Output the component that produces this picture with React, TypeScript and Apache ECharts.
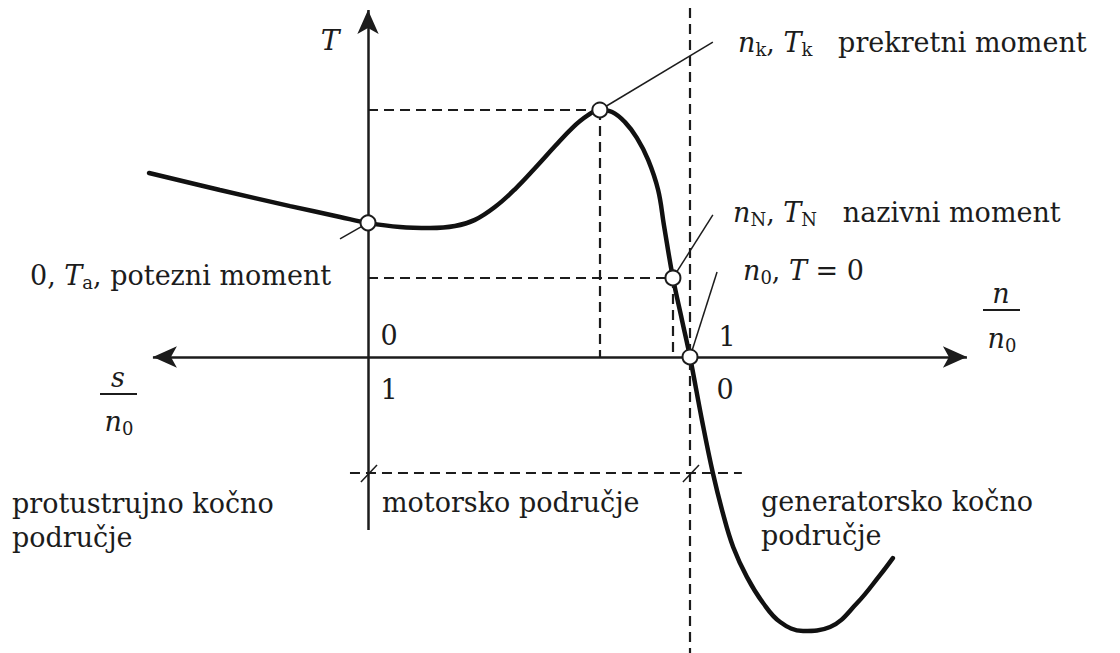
import React, { useEffect, useRef } from "react";
import * as echarts from "echarts";

// Torque characteristic: n/n0 (x) vs T/Tk (y)
const curveN = [-0.680, -0.460, -0.242, -0.087, 0, 0.099, 0.193, 0.270, 0.332, 0.394, 0.457, 0.519, 0.581, 0.634, 0.680, 0.720, 0.758, 0.798, 0.835, 0.870, 0.901, 0.919, 0.947, 0.975, 1.000, 1.037, 1.071, 1.102, 1.134, 1.177, 1.227, 1.280, 1.351, 1.435, 1.519, 1.590, 1.630];
const curveT = [0.745, 0.676, 0.611, 0.567, 0.543, 0.526, 0.522, 0.530, 0.555, 0.607, 0.680, 0.765, 0.854, 0.927, 0.976, 1.000, 0.992, 0.951, 0.887, 0.798, 0.676, 0.534, 0.320, 0.150, 0, -0.255, -0.470, -0.632, -0.769, -0.891, -0.996, -1.073, -1.109, -1.093, -0.996, -0.883, -0.814];

// Marked operating points: starting (Ta), breakdown (k), nominal (N), synchronous (n0)
const pointNames = ["Ta", "Tk", "TN", "n0"];
const pointN = [0, 0.720, 0.947, 1.0];
const pointT = [0.543, 1.0, 0.320, 0];

// Axis ranges (data space)
const xRange = [-1.1429, 2.3354];
const yRange = [-1.1984, 1.4453];
const xAxisEnds = [-0.668, 1.860];
const yAxisEnds = [-0.700, 1.405];
const syncLineEnds = [1.413, -1.198];
const regionLevel = -0.470;
const regionEnds = [-0.056, 1.161];

const FONT = '"DejaVu Serif", "Liberation Serif", serif';
const INK = "#1c1c1c";
const FS = 27;

const rich = {
  i: { fontStyle: "italic", fontSize: FS, fontFamily: FONT, fill: INK, lineHeight: 32 },
  s: { fontSize: 18, fontFamily: FONT, fill: INK, lineHeight: 14, verticalAlign: "bottom" },
  r: { fontSize: FS, fontFamily: FONT, fill: INK, lineHeight: 32 },
};

function label(text: string, x: number, y: number, extra: any = {}) {
  return {
    type: "text",
    x,
    y,
    silent: true,
    z: 10,
    style: {
      text,
      fill: INK,
      fontFamily: FONT,
      fontSize: FS,
      align: "left",
      verticalAlign: "middle",
      rich,
      ...extra,
    },
  };
}

export default function App() {
  const ref = useRef<HTMLDivElement>(null);
  useEffect(() => {
    if (!ref.current) return;
    const chart = echarts.init(ref.current, null, { renderer: "svg" });
    const curve = curveN.map((n, i) => [n, curveT[i]]);
    const pts = pointN.map((n, i) => ({ name: pointNames[i], value: [n, pointT[i]] }));
    const [pa, pk, pN, p0] = pts.map((p) => p.value);

    const dashed = { type: [10, 6], width: 2.2, color: INK };
    const thin = { type: "solid", width: 1.5, color: INK };
    const seg = (a: number[], b: number[], ls: any) => [
      { coord: a, lineStyle: ls, symbol: "none" },
      { coord: b, symbol: "none" },
    ];

    chart.setOption({
      animation: false,
      backgroundColor: "#ffffff",
      grid: { left: 0, right: 0, top: 0, bottom: 0 },
      xAxis: { type: "value", min: xRange[0], max: xRange[1], show: false },
      yAxis: { type: "value", min: yRange[0], max: yRange[1], show: false },
      series: [
        {
          name: "axes",
          type: "line",
          data: [],
          z: 2,
          markLine: {
            silent: true,
            animation: false,
            label: { show: false },
            symbolSize: [16, 24],
            data: [
              [
                { coord: [xAxisEnds[0], 0], symbol: "arrow", lineStyle: { type: "solid", width: 2.5, color: INK } },
                { coord: [xAxisEnds[1], 0], symbol: "arrow" },
              ],
              [
                { coord: [0, yAxisEnds[0]], symbol: "none", lineStyle: { type: "solid", width: 2.5, color: INK } },
                { coord: [0, yAxisEnds[1]], symbol: "arrow" },
              ],
            ],
          },
        },
        {
          name: "guides",
          type: "line",
          data: [],
          z: 2,
          markLine: {
            silent: true,
            animation: false,
            label: { show: false },
            symbol: ["none", "none"],
            data: [
              seg([0, pk[1]], [pk[0], pk[1]], dashed),
              seg([pk[0], pk[1]], [pk[0], 0], dashed),
              seg([0, pN[1]], [pN[0], pN[1]], dashed),
              seg([pN[0], pN[1]], [pN[0], 0], dashed),
              seg([p0[0], syncLineEnds[0]], [p0[0], syncLineEnds[1]], dashed),
              seg([regionEnds[0], regionLevel], [regionEnds[1], regionLevel], dashed),
              seg([-0.022, regionLevel - 0.036], [0.028, regionLevel + 0.033], thin),
              seg([0.978, regionLevel - 0.036], [1.028, regionLevel + 0.033], thin),
              seg([pk[0], pk[1]], [1.071, 1.275], thin),
              seg([pN[0], pN[1]], [1.071, 0.575], thin),
              seg([p0[0], p0[1]], [1.084, 0.344], thin),
              seg([-0.087, 0.478], [pa[0], pa[1]], thin),
            ],
          },
        },
        {
          name: "T(n)",
          type: "line",
          data: curve,
          smooth: 0.4,
          symbol: "none",
          z: 3,
          lineStyle: { width: 4.5, color: "#111", cap: "round" },
        },
        {
          name: "points",
          type: "scatter",
          data: pts,
          symbol: "circle",
          symbolSize: 15,
          z: 5,
          itemStyle: { color: "#ffffff", opacity: 1, borderColor: INK, borderWidth: 2 },
        },
      ],
      graphic: [
        label("T", 330, 40, { fontStyle: "italic", fontSize: 28, align: "center" }),
        label("{i|n}{s|k}{r|, }{i|T}{s|k}{r|   prekretni moment}", 738, 42),
        label("{i|n}{s|N}{r|, }{i|T}{s|N}{r|   nazivni moment}", 733, 212),
        label("{i|n}{s|0}{r|, }{i|T}{r| = 0}", 743, 270),
        label("{r|0, }{i|T}{s|a}{r|, potezni moment}", 30, 275),
        label("0", 389, 335, { align: "center" }),
        label("1", 389, 389, { align: "center" }),
        label("1", 727, 336, { align: "center" }),
        label("0", 725, 389, { align: "center" }),
        label("{i|n}", 1001, 293, { align: "center" }),
        { type: "line", silent: true, shape: { x1: 983, y1: 310, x2: 1020, y2: 310 }, style: { stroke: INK, lineWidth: 2 } },
        label("{i|n}{s|0}", 1002, 338, { align: "center" }),
        label("{i|s}", 118, 377, { align: "center" }),
        { type: "line", silent: true, shape: { x1: 100, y1: 394, x2: 137, y2: 394 }, style: { stroke: INK, lineWidth: 2 } },
        label("{i|n}{s|0}", 119, 421, { align: "center" }),
        label("protustrujno kočno\npodručje", 12, 486, { verticalAlign: "top", lineHeight: 34 }),
        label("motorsko područje", 382, 502),
        label("generatorsko kočno\npodručje", 761, 484, { verticalAlign: "top", lineHeight: 34 }),
      ],
    });
    return () => chart.dispose();
  }, []);
  return (
    <div
      ref={ref}
      style={{ position: "absolute", left: 0, top: 0, width: 1120, height: 653, background: "#fff" }}
    />
  );
}
